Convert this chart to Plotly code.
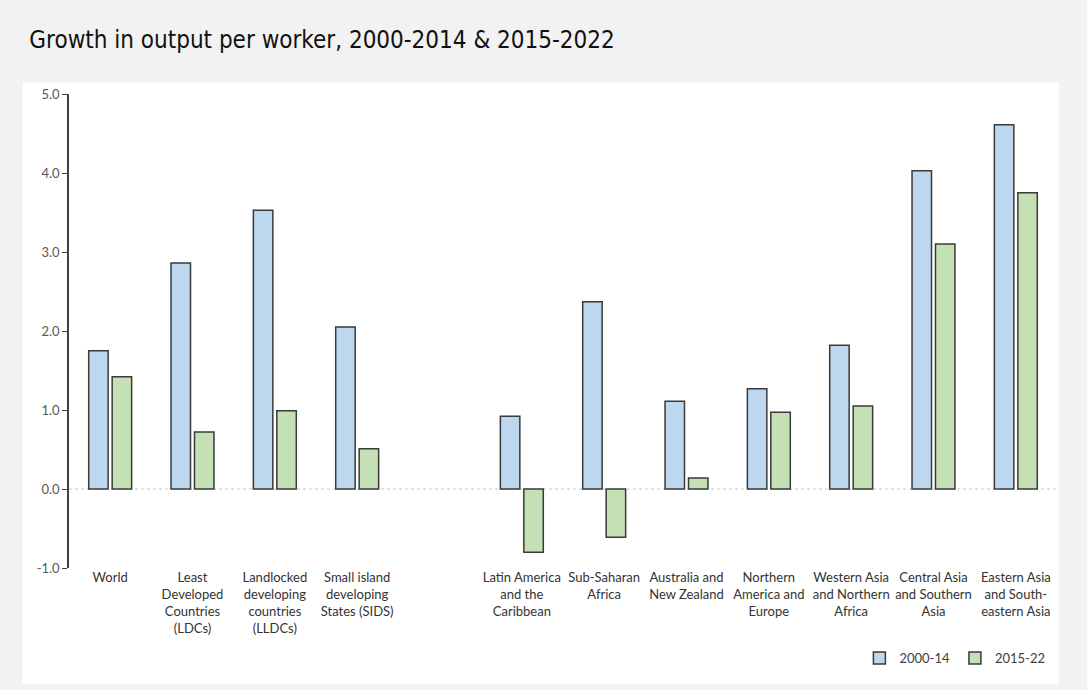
import plotly.graph_objects as go

# Regions (a blank slot separates the country groups from the geographic regions)
categories = [
    "World",
    "Least<br>Developed<br>Countries<br>(LDCs)",
    "Landlocked<br>developing<br>countries<br>(LLDCs)",
    "Small island<br>developing<br>States (SIDS)",
    " ",
    "Latin America<br>and the<br>Caribbean",
    "Sub-Saharan<br>Africa",
    "Australia and<br>New Zealand",
    "Northern<br>America and<br>Europe",
    "Western Asia<br>and Northern<br>Africa",
    "Central Asia<br>and Southern<br>Asia",
    "Eastern Asia<br>and South-<br>eastern Asia",
]

growth_2000_14 = [1.75, 2.86, 3.53, 2.05, None, 0.92, 2.37, 1.11, 1.27, 1.82, 4.03, 4.61]
growth_2015_22 = [1.42, 0.72, 0.99, 0.51, None, -0.80, -0.61, 0.14, 0.97, 1.05, 3.10, 3.75]

y_ticks = [-1.0, 0.0, 1.0, 2.0, 3.0, 4.0, 5.0]

BODY_FONT = "Lato, 'Open Sans', sans-serif"
TITLE_FONT = "'DejaVu Sans Condensed', 'Liberation Sans Narrow', 'Arial Narrow', sans-serif"
EDGE = dict(color="#3a3a3a", width=1.5)

fig = go.Figure()
fig.add_trace(go.Bar(name="2000-14", x=categories, y=growth_2000_14,
                     marker=dict(color="#BDD7EE", line=EDGE)))
fig.add_trace(go.Bar(name="2015-22", x=categories, y=growth_2015_22,
                     marker=dict(color="#C5E0B4", line=EDGE)))

# White chart panel on grey page
fig.add_shape(type="rect", xref="paper", yref="paper",
              x0=-0.047, x1=1.002, y0=-0.245, y1=1.025,
              fillcolor="white", line=dict(width=0), layer="below")
# Dotted baseline at zero
fig.add_shape(type="line", xref="paper", yref="y", x0=0, x1=1, y0=0, y1=0,
              line=dict(color="#C8C8C8", width=1, dash="dot"), layer="below")

fig.update_layout(
    width=1087, height=690,
    paper_bgcolor="#F2F2F2", plot_bgcolor="rgba(0,0,0,0)",
    margin=dict(l=69, r=30, t=94, b=122),
    barmode="group", bargap=0.43, bargroupgap=0.17,
    title=dict(text="Growth in output per worker, 2000-2014 &amp; 2015-2022",
               x=0.027, xanchor="left", y=0.942, yanchor="middle",
               xref="container", yref="container",
               font=dict(family=TITLE_FONT, size=24, color="#111111")),
    font=dict(family=BODY_FONT, size=13, color="#333333"),
    showlegend=True,
    legend=dict(orientation="h", x=0.8, xanchor="left", y=-0.19, yanchor="middle",
                font=dict(size=13, color="#404040"), bgcolor="rgba(0,0,0,0)",
                itemwidth=30, traceorder="normal"),
    xaxis=dict(showline=False, ticks="", tickangle=0, showgrid=False,
               tickfont=dict(size=13, color="#333333")),
    yaxis=dict(range=[-1.0, 5.0], tickvals=y_ticks,
               ticktext=[f"{v:.1f}" for v in y_ticks],
               showline=True, linecolor="#404040", linewidth=1.5,
               ticks="outside", ticklen=5, tickcolor="#404040",
               showgrid=False, zeroline=False,
               tickfont=dict(size=13, color="#595959")),
)

fig.write_html("out.html")
